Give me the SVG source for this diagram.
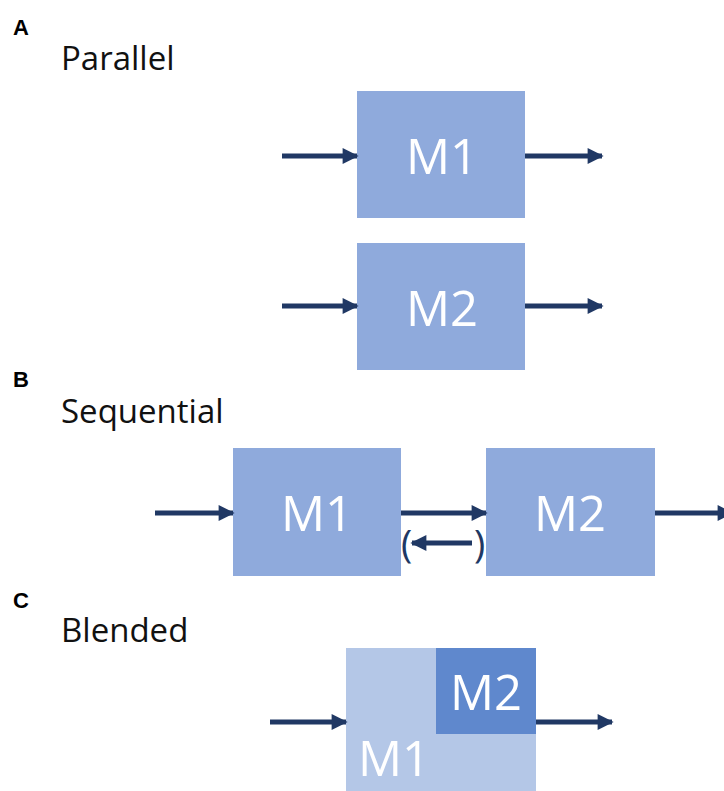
<svg xmlns="http://www.w3.org/2000/svg" width="724" height="791" viewBox="0 0 724 791">
  <style>
    .panel { font-family: "Liberation Sans", Arial, sans-serif; font-weight: bold; font-size: 22px; fill: #000; }
    .title { font-family: "Open Sans", "Liberation Sans", sans-serif; font-size: 33px; fill: #111; }
    .box { fill: #8FAADC; }
    .boxLight { fill: #B4C7E7; }
    .boxDark { fill: #5F88CD; }
    .lbl { font-family: "Open Sans", "Liberation Sans", sans-serif; font-size: 49px; fill: #fff; text-anchor: middle; }
    .conn { stroke: #203864; stroke-width: 5; fill: none; marker-end: url(#head); }
    .paren { font-family: "Open Sans", "Liberation Sans", sans-serif; font-size: 38px; fill: #203864; }
  </style>
  <defs>
    <marker id="head" viewBox="0 0 10 10" refX="9" refY="5" markerWidth="3.4" markerHeight="3.2" orient="auto" markerUnits="strokeWidth">
      <path d="M0,0 L10,5 L0,10 z" fill="#203864"/>
    </marker>
  </defs>
  <rect width="724" height="791" fill="#fff"/>

  <!-- Panel A: parallel -->
  <text class="panel" x="13" y="35">A</text>
  <text class="title" x="61" y="70">Parallel</text>
  <g id="a-m1">
    <rect class="box" x="357" y="91" width="168" height="127"/>
    <text class="lbl" x="442" y="174">M1</text>
  </g>
  <g id="a-m2">
    <rect class="box" x="357" y="243" width="168" height="127"/>
    <text class="lbl" x="442" y="326">M2</text>
  </g>

  <!-- Panel B: sequential -->
  <text class="panel" x="13" y="387">B</text>
  <text class="title" x="61" y="423">Sequential</text>
  <g id="b-m1">
    <rect class="box" x="233" y="448" width="168" height="128"/>
    <text class="lbl" x="317" y="531">M1</text>
  </g>
  <g id="b-m2">
    <rect class="box" x="486" y="448" width="169" height="128"/>
    <text class="lbl" x="570" y="531">M2</text>
  </g>

  <!-- Panel C: blended -->
  <text class="panel" x="13" y="608">C</text>
  <text class="title" x="61" y="642">Blended</text>
  <g id="c-m1">
    <rect class="boxLight" x="346" y="648" width="190" height="143"/>
    <text class="lbl" x="394" y="776">M1</text>
  </g>
  <g id="c-m2">
    <rect class="boxDark" x="436" y="648" width="100" height="86"/>
    <text class="lbl" x="486" y="710">M2</text>
  </g>

  <g id="connectors">
    <line class="conn" x1="282" y1="156" x2="357" y2="156"/>
    <line class="conn" x1="525" y1="156" x2="602" y2="156"/>
    <line class="conn" x1="282" y1="306" x2="357" y2="306"/>
    <line class="conn" x1="525" y1="306" x2="602" y2="306"/>
    <line class="conn" x1="155" y1="513" x2="233" y2="513"/>
    <line class="conn" x1="401" y1="513" x2="486" y2="513"/>
    <line class="conn" x1="655" y1="513" x2="732" y2="513"/>
    <line class="conn" x1="472" y1="543" x2="412" y2="543"/>
    <text class="paren" x="401" y="558">(</text>
    <text class="paren" x="474" y="558">)</text>
    <line class="conn" x1="270" y1="722" x2="346" y2="722"/>
    <line class="conn" x1="536" y1="722" x2="612" y2="722"/>
  </g>
</svg>
